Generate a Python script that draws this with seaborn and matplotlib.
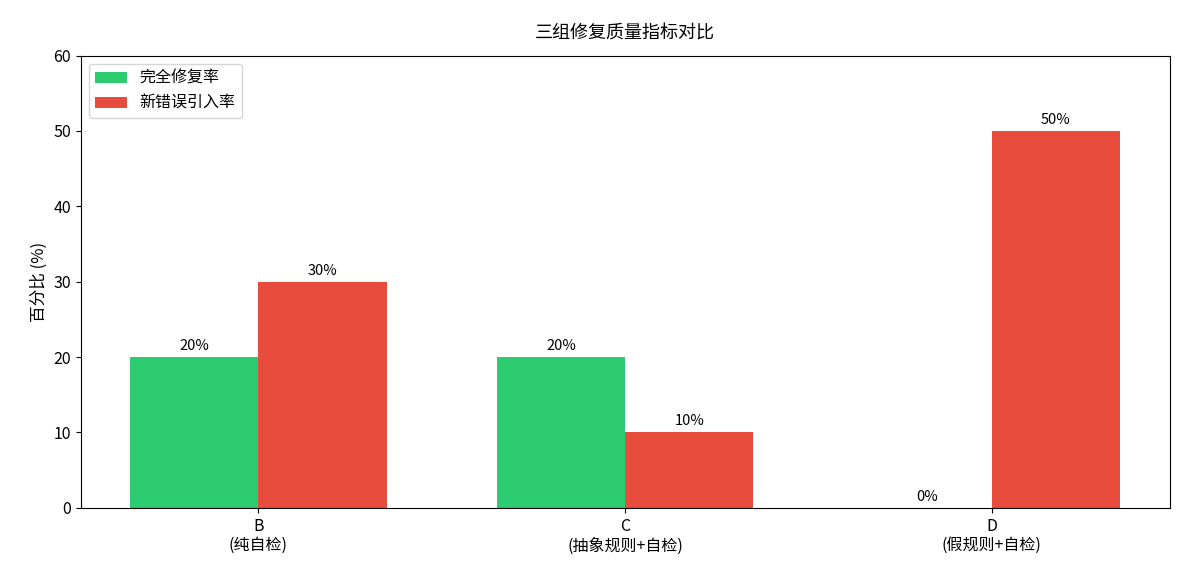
import matplotlib
matplotlib.use("Agg")
import matplotlib.pyplot as plt
import seaborn as sns
import pandas as pd

plt.rcParams['font.family'] = ['Noto Sans CJK SC', 'DejaVu Sans']
plt.rcParams['axes.unicode_minus'] = False

categories = ["B\n(纯自检)", "C\n(抽象规则+自检)", "D\n(假规则+自检)"]
series_names = ["完全修复率", "新错误引入率"]
full_fix = [20, 20, 0]
new_error = [30, 10, 50]
colors = ["#2ecc71", "#e74c3c"]

df = pd.DataFrame({
    "cat": categories * 2,
    "series": [series_names[0]] * 3 + [series_names[1]] * 3,
    "value": full_fix + new_error,
})

fig, ax = plt.subplots(figsize=(11.85, 5.85), dpi=100)
sns.barplot(data=df, x="cat", y="value", hue="series", palette=colors,
            width=0.7, gap=0, saturation=1, ax=ax, errorbar=None)

for cont in ax.containers:
    ax.bar_label(cont, labels=[f"{int(v.get_height())}%" for v in cont],
                 padding=3, fontsize=10.5)

ax.set_xlim(-0.485, 2.485)
ax.set_ylim(0, 60)
ax.set_xlabel("")
ax.set_ylabel("百分比 (%)", fontsize=12)
ax.set_title("三组修复质量指标对比", fontsize=13, pad=12)
ax.tick_params(labelsize=11.5)
ax.legend(loc="upper left", fontsize=11.5, title=None)
fig.subplots_adjust(left=0.068, right=0.987, top=0.905, bottom=0.132)
fig.savefig("out.png", dpi=100)
